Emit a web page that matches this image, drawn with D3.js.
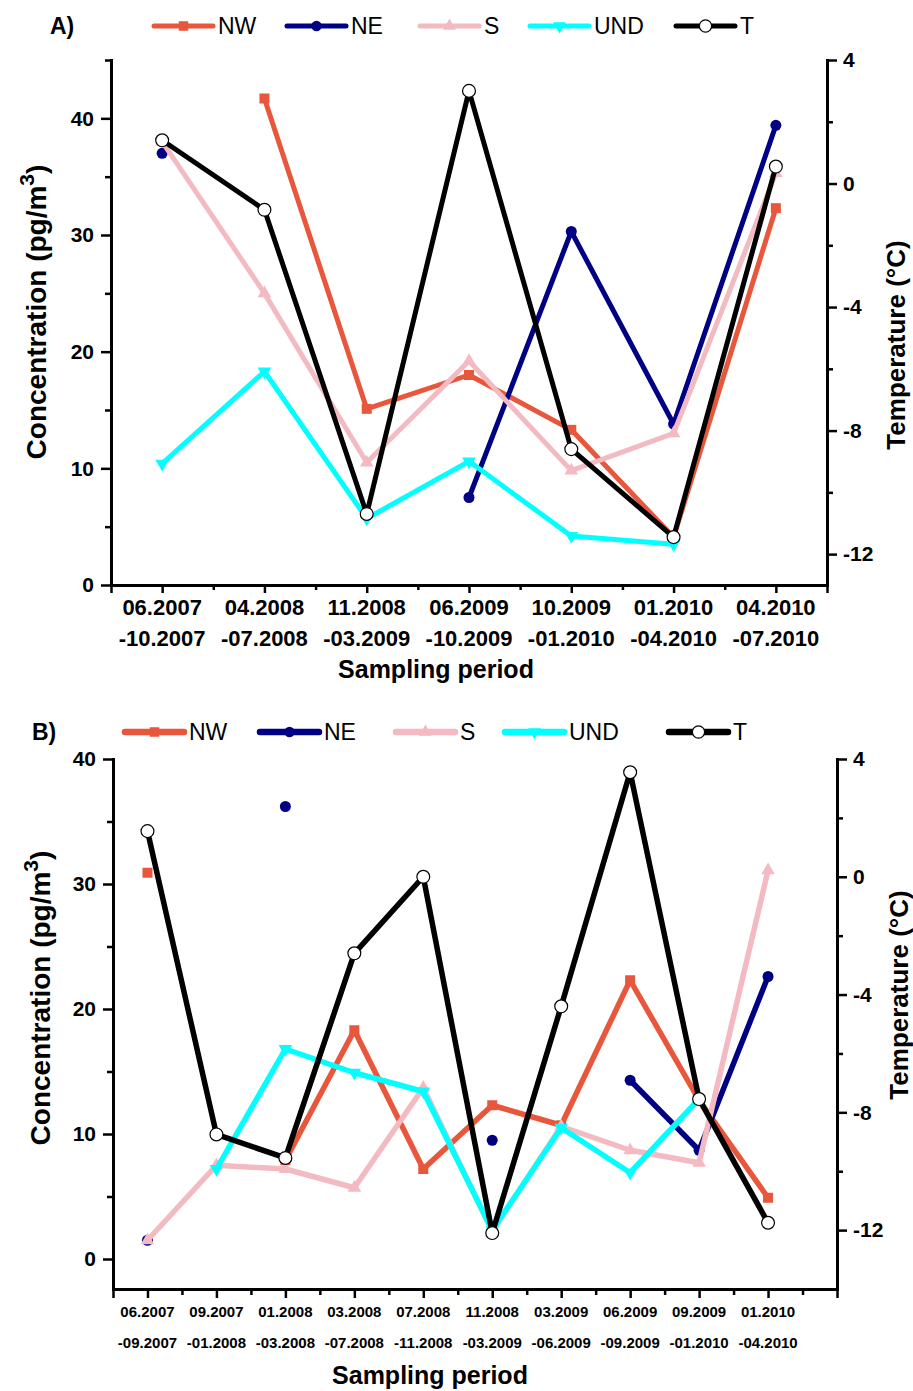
<!DOCTYPE html>
<html>
<head>
<meta charset="utf-8">
<script src="https://cdn.jsdelivr.net/npm/d3@7"></script>
<style>
body { margin: 0; background: #fff; }
text { font-family: "Liberation Sans", Arial, sans-serif; }
</style>
</head>
<body>
<div id="chart"></div>
<script>
// ---------------- data: panel A ----------------
const periodsA    = ['06.2007', '04.2008', '11.2008', '06.2009', '10.2009', '01.2010', '04.2010'];
const periodsEndA = ['-10.2007', '-07.2008', '-03.2009', '-10.2009', '-01.2010', '-04.2010', '-07.2010'];
const nwA   = [null, 41.7, 15.1, 18.0, 13.3, 4.1, 32.3];
const neA   = [37.0, null, null, 7.5, 30.3, 13.8, 39.4];
const sA    = [38.0, 25.0, 10.5, 19.2, 9.8, 13.0, 35.3];
const undA  = [10.4, 18.3, 5.7, 10.6, 4.2, 3.5, null];
const tempA = [1.4, -0.85, -10.7, 3.0, -8.6, -11.45, 0.55];

// ---------------- data: panel B ----------------
const periodsB    = ['06.2007', '09.2007', '01.2008', '03.2008', '07.2008', '11.2008', '03.2009', '06.2009', '09.2009', '01.2010'];
const periodsEndB = ['-09.2007', '-01.2008', '-03.2008', '-07.2008', '-11.2008', '-03.2009', '-06.2009', '-09.2009', '-01.2010', '-04.2010'];
const nwB   = [30.9, null, 7.9, 18.3, 7.2, 12.3, 10.7, 22.3, 12.7, 4.9];
const neB   = [1.5, null, 36.2, null, null, 9.5, null, 14.3, 8.7, 22.6];
const sB    = [1.5, 7.5, 7.2, 5.7, 13.7, 2.2, 10.6, 8.7, 7.7, 31.1];
const undB  = [null, 7.2, 16.8, 14.9, 13.4, 2.3, 10.5, 6.9, 12.8, null];
const tempB = [1.55, -8.75, -9.55, -2.6, 0.0, -12.1, -4.4, 3.55, -7.55, -11.75];

// tick values
const concTicks = [0, 10, 20, 30, 40];
const concMinor = [5, 15, 25, 35];
const tempTicks = [4, 0, -4, -8, -12];
const tempMinor = [2, -2, -6, -10];

const seriesNames = ['NW', 'NE', 'S', 'UND', 'T'];

//************* Canvas Set Up *************//
const svg = d3.select('#chart').append('svg')
  .attr('width', 913)
  .attr('height', 1391)
  .style('background', '#fff');

const colors = { NW: '#E8563C', NE: '#000085', S: '#F3BAC2', UND: '#00FFFF', T: '#000000' };
const shapes = {
  NW: { sym: d3.symbolSquare, size: 100, rot: 0 },
  NE: { sym: d3.symbolCircle, size: 95, rot: 0 },
  S: { sym: d3.symbolTriangle, size: 80, rot: 0 },
  UND: { sym: d3.symbolTriangle, size: 80, rot: 180 },
  T: { sym: d3.symbolCircle, size: 130, rot: 0 }
};

function addMarker(sel, name, cx, cy, scale) {
  const s = shapes[name];
  const path = sel.append('path')
    .attr('d', d3.symbol().type(s.sym).size(s.size * (scale || 1))())
    .attr('transform', 'translate(' + cx + ',' + cy + ') rotate(' + s.rot + ')');
  if (name === 'T') {
    path.attr('fill', '#fff').attr('stroke', '#000').attr('stroke-width', 1.2);
  } else {
    path.attr('fill', colors[name]);
  }
}

function drawPanel(p) {
  const x = d3.scaleLinear().domain(p.xDomain).range([p.left, p.right]);
  const yL = d3.scaleLinear().domain(p.yDomain).range([p.bottom, p.top]);
  const yR = d3.scaleLinear().domain(p.tDomain).range([p.bottom, p.top]);
  const g = svg.append('g');

  const styleAxis = sel => {
    sel.selectAll('path.domain').attr('stroke', '#000').attr('stroke-width', 3).attr('stroke-linecap', 'square');
    sel.selectAll('.tick line').attr('stroke', '#000').attr('stroke-width', 2.5);
    sel.selectAll('text').attr('font-weight', 'bold').attr('font-size', p.yTickFont + 'px').attr('fill', '#000');
  };

  // left axis
  g.append('g').attr('transform', 'translate(' + p.left + ',0)')
    .call(d3.axisLeft(yL).tickValues(concTicks).tickSize(10).tickSizeOuter(0).tickPadding(7))
    .call(styleAxis);
  g.append('g').attr('transform', 'translate(' + p.left + ',0)')
    .call(d3.axisLeft(yL).tickValues(concMinor.concat(p.yExtraMinor)).tickSize(6).tickFormat(''))
    .call(s => s.select('.domain').remove())
    .call(styleAxis);

  // right axis
  g.append('g').attr('transform', 'translate(' + p.right + ',0)')
    .call(d3.axisRight(yR).tickValues(tempTicks).tickSize(10).tickSizeOuter(0).tickPadding(6)
      .tickFormat(d => d < 0 ? '-' + Math.abs(d) : d))
    .call(styleAxis);
  g.append('g').attr('transform', 'translate(' + p.right + ',0)')
    .call(d3.axisRight(yR).tickValues(tempMinor).tickSize(6).tickFormat(''))
    .call(s => s.select('.domain').remove())
    .call(styleAxis);

  // bottom axis
  const n = p.periods.length;
  const major = d3.range(n).concat([p.xDomain[0], p.xDomain[1]]);
  const minor = d3.range(n - 1).map(i => i + 0.5).concat(p.xExtraMinor);
  g.append('g').attr('transform', 'translate(0,' + p.bottom + ')')
    .call(d3.axisBottom(x).tickValues(major).tickSize(p.xTickSize).tickSizeOuter(0).tickFormat(''))
    .call(styleAxis);
  g.append('g').attr('transform', 'translate(0,' + p.bottom + ')')
    .call(d3.axisBottom(x).tickValues(minor).tickSize(p.xTickSize - 3).tickFormat(''))
    .call(s => s.select('.domain').remove())
    .call(styleAxis);

  // two-line category labels
  g.selectAll('.xlab1').data(p.periods).join('text')
    .attr('x', (d, i) => x(i)).attr('y', p.bottom + p.xLab1)
    .attr('text-anchor', 'middle').attr('font-weight', 'bold').attr('font-size', p.xTickFont + 'px')
    .text(d => d);
  g.selectAll('.xlab2').data(p.periodsEnd).join('text')
    .attr('x', (d, i) => x(i)).attr('y', p.bottom + p.xLab2)
    .attr('text-anchor', 'middle').attr('font-weight', 'bold').attr('font-size', p.xTickFont + 'px')
    .text(d => d);

  // axis titles
  g.append('text')
    .attr('x', (p.left + p.right) / 2 + p.xTitleDx).attr('y', p.xTitleY)
    .attr('text-anchor', 'middle').attr('font-weight', 'bold').attr('font-size', '25px')
    .text('Sampling period');

  const yt = g.append('text')
    .attr('transform', 'translate(' + p.yTitleX + ',' + p.yTitleY + ') rotate(-90)')
    .attr('text-anchor', 'middle').attr('font-weight', 'bold').attr('font-size', '28px');
  yt.append('tspan').text('Concentration (pg/m');
  yt.append('tspan').attr('dy', -12).attr('font-size', '21px').text('3');
  yt.append('tspan').attr('dy', 12).text(')');

  g.append('text')
    .attr('transform', 'translate(' + p.tTitleX + ',' + p.tTitleY + ') rotate(-90)')
    .attr('text-anchor', 'middle').attr('font-weight', 'bold').attr('font-size', '26px')
    .text('Temperature (\u00B0C)');

  // series
  const data = { NW: p.nw, NE: p.ne, S: p.s, UND: p.und, T: p.temp };
  seriesNames.forEach(name => {
    const yS = name === 'T' ? yR : yL;
    const vals = data[name];
    const line = d3.line()
      .defined(d => d != null)
      .x((d, i) => x(i))
      .y(d => yS(d));
    g.append('path')
      .datum(vals)
      .attr('fill', 'none')
      .attr('stroke', colors[name])
      .attr('stroke-width', p.lineWidth)
      .attr('stroke-linejoin', 'round')
      .attr('d', line);
    const mg = g.append('g');
    vals.forEach((v, i) => {
      if (v != null) addMarker(mg, name, x(i), yS(v), 1);
    });
  });

  // legend
  g.append('text')
    .attr('x', p.tagX).attr('y', p.legendY + 8)
    .attr('font-weight', 'bold').attr('font-size', '23px')
    .text(p.tag);
  seriesNames.forEach((name, i) => {
    const lx = p.legendX[i];
    g.append('line')
      .attr('x1', lx).attr('x2', lx + p.legendLen)
      .attr('y1', p.legendY).attr('y2', p.legendY)
      .attr('stroke', colors[name]).attr('stroke-width', p.legendWidth)
      .attr('stroke-linecap', 'round');
    addMarker(g, name, lx + p.legendLen / 2, p.legendY, 0.9);
    g.append('text')
      .attr('x', lx + p.legendLen + 5).attr('y', p.legendY + 8)
      .attr('font-size', '23px')
      .text(name);
  });
}

drawPanel({
  tag: 'A)', tagX: 50,
  periods: periodsA, periodsEnd: periodsEndA,
  nw: nwA, ne: neA, s: sA, und: undA, temp: tempA,
  xDomain: [-0.5, 6.5], yDomain: [0, 45], tDomain: [-13, 4],
  yExtraMinor: [45], xExtraMinor: [],
  left: 111, right: 827, top: 60, bottom: 585,
  yTickFont: 21, xTickFont: 22, xTickSize: 8,
  xLab1: 30, xLab2: 61, xTitleY: 678, xTitleDx: -33,
  yTitleX: 46, yTitleY: 312, tTitleX: 905, tTitleY: 345,
  lineWidth: 5,
  legendY: 26, legendX: [154, 287, 420, 530, 676], legendLen: 59, legendWidth: 5
});

drawPanel({
  tag: 'B)', tagX: 32,
  periods: periodsB, periodsEnd: periodsEndB,
  nw: nwB, ne: neB, s: sB, und: undB, temp: tempB,
  xDomain: [-0.5, 10], yDomain: [-2.4, 40], tDomain: [-14, 4],
  yExtraMinor: [], xExtraMinor: [9.5],
  left: 113, right: 837, top: 759, bottom: 1289,
  yTickFont: 21, xTickFont: 15, xTickSize: 9,
  xLab1: 28, xLab2: 59, xTitleY: 1384, xTitleDx: -45,
  yTitleX: 50, yTitleY: 998, tTitleX: 908, tTitleY: 995,
  lineWidth: 5.5,
  legendY: 732, legendX: [125, 260, 396, 505, 669], legendLen: 59, legendWidth: 6.5
});
</script>
</body>
</html>
